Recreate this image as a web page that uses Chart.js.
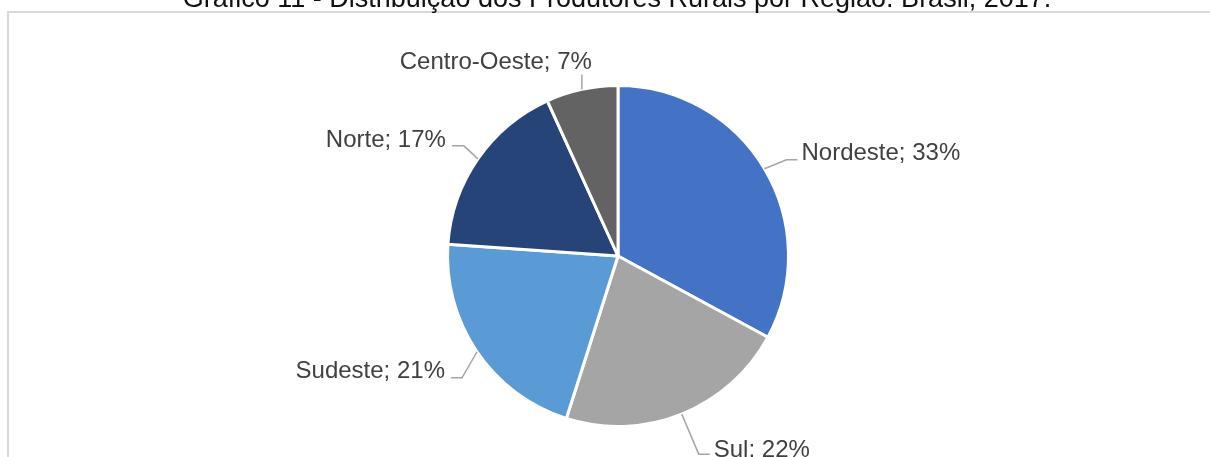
<!DOCTYPE html>
<html lang="pt-BR">
<head>
<meta charset="utf-8">
<title>Produtores Rurais por Região</title>
<script src="https://cdn.jsdelivr.net/npm/chart.js@4.4.1/dist/chart.umd.min.js"></script>
<style>
    html, body { margin: 0; padding: 0; background: #fff; }
    #wrap { position: relative; width: 1210px; height: 457px; }
</style>
</head>
<body>
<div id="wrap"><canvas id="pie-chart"></canvas></div>
<script>
// Data (share of rural producers, %)
const title = 'Gráfico 11 - Distribuição dos Produtores Rurais por Região. Brasil, 2017.';
const regions = ['Nordeste', 'Sul', 'Sudeste', 'Norte', 'Centro-Oeste'];
const shares = [32.9, 22.0, 21.2, 17.1, 6.8];
const sliceColors = ['#4472C4', '#A5A5A5', '#5B9BD5', '#264478', '#636363'];

// Leader line layout per slice: elbow offset from the arc edge, tail length, text side/offset
const leaders = [
    { elbow: [22, -9], tail: 11, align: 'left', text: [4, 0] },
    { elbow: [17, 40], tail: 11, align: 'left', text: [4, 3] },
    { elbow: [-15, 26], tail: -11, align: 'right', text: [-6, 0] },
    { elbow: [-14, -13], tail: -12, align: 'right', text: [-6, 1] },
    { elbow: [0, -15], tail: 0, align: 'right', text: [10, -5] }
];

const FONT = "'Liberation Sans', Arial, sans-serif";

const frameAndTitle = {
    id: 'frameAndTitle',
    beforeDraw(chart) {
        const ctx = chart.ctx;
        ctx.save();
        ctx.strokeStyle = '#D9D9D9';
        ctx.lineWidth = 2;
        ctx.beginPath();
        ctx.moveTo(8, chart.height);
        ctx.lineTo(8, 12);
        ctx.lineTo(chart.width, 12);
        ctx.stroke();

        ctx.fillStyle = '#111111';
        ctx.font = `27px ${FONT}`;
        ctx.textAlign = 'center';
        ctx.textBaseline = 'alphabetic';
        ctx.fillText(title, 617, 7);
        ctx.restore();
    }
};

const leaderLabels = {
    id: 'leaderLabels',
    afterDatasetsDraw(chart) {
        const ctx = chart.ctx;
        const meta = chart.getDatasetMeta(0);
        ctx.save();
        ctx.font = `24px ${FONT}`;
        ctx.textBaseline = 'alphabetic';
        meta.data.forEach((arc, i) => {
            const p = arc.getProps(['x', 'y', 'startAngle', 'endAngle', 'outerRadius'], true);
            const mid = (p.startAngle + p.endAngle) / 2;
            const sx = p.x + Math.cos(mid) * p.outerRadius;
            const sy = p.y + Math.sin(mid) * p.outerRadius;
            const cfg = leaders[i];
            const ex = sx + cfg.elbow[0];
            const ey = sy + cfg.elbow[1];
            const tx = ex + cfg.tail;

            ctx.strokeStyle = '#A6A6A6';
            ctx.lineWidth = 1.5;
            ctx.beginPath();
            ctx.moveTo(sx, sy);
            ctx.lineTo(ex, ey);
            ctx.lineTo(tx, ey);
            ctx.stroke();

            ctx.fillStyle = '#404040';
            ctx.textAlign = cfg.align;
            const label = `${regions[i]}; ${Math.round(chart.data.datasets[0].data[i])}%`;
            ctx.fillText(label, tx + cfg.text[0], ey + cfg.text[1]);
        });
        ctx.restore();
    }
};

document.addEventListener('DOMContentLoaded', () => {
    const ctx = document.getElementById('pie-chart').getContext('2d');
    window.pieChart = new Chart(ctx, {
        type: 'pie',
        data: {
            labels: regions,
            datasets: [{
                data: shares,
                backgroundColor: sliceColors,
                borderColor: '#FFFFFF',
                borderWidth: 3
            }]
        },
        options: {
            responsive: true,
            maintainAspectRatio: false,
            animation: false,
            layout: {
                padding: { left: 446, right: 420, top: 84, bottom: 29 }
            },
            plugins: {
                legend: { display: false },
                tooltip: { enabled: false },
                title: { display: false }
            }
        },
        plugins: [frameAndTitle, leaderLabels]
    });
});
</script>
</body>
</html>
